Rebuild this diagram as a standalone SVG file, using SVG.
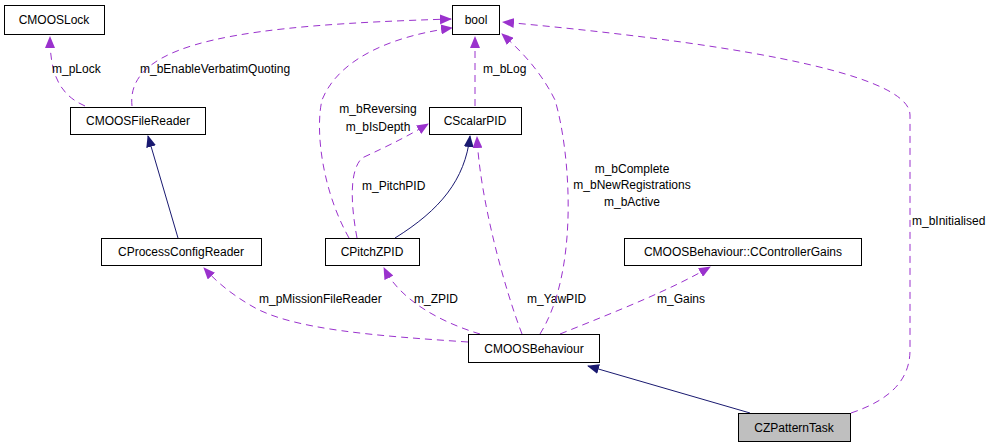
<svg xmlns="http://www.w3.org/2000/svg" width="997" height="448" viewBox="0 0 997 448">
<style>
.n rect{fill:#fff;stroke:#000;stroke-width:1}
text{font-family:"Liberation Sans",Arial,sans-serif;font-size:12px;fill:#000}
.n text{text-anchor:middle}
.u{fill:none;stroke:#9a32cd;stroke-dasharray:7,5;stroke-width:1}
.i{fill:none;stroke:#191970;stroke-width:1}
</style>
<defs>
<marker id="pa" markerWidth="12" markerHeight="10" refX="11" refY="5" orient="auto" markerUnits="userSpaceOnUse"><path d="M0,0 L12,5 L0,10 z" fill="#9a32cd"/></marker>
<marker id="na" markerWidth="12" markerHeight="10" refX="11" refY="5" orient="auto" markerUnits="userSpaceOnUse"><path d="M0,0 L12,5 L0,10 z" fill="#191970"/></marker>
</defs>
<rect width="997" height="448" fill="#fff"/>
<g id="connectors">
<path class="u" d="M85,106 C60,95 50,75 50,37" marker-end="url(#pa)"/>
<text x="52" y="73">m_pLock</text>
<path class="u" d="M132,106 C125,40 250,25 451,19" marker-end="url(#pa)"/>
<text x="140" y="73">m_bEnableVerbatimQuoting</text>
<path class="i" d="M178,238 L148,136" marker-end="url(#na)"/>
<path class="u" d="M468,342 C380,336 290,330 250,305 C228,292 215,280 204,268" marker-end="url(#pa)"/>
<text x="259" y="303">m_pMissionFileReader</text>
<path class="u" d="M480,334 C440,322 400,300 384,268" marker-end="url(#pa)"/>
<text x="414" y="303">m_ZPID</text>
<path class="i" d="M395,238 C440,210 465,180 470,136" marker-end="url(#na)"/>
<path class="u" d="M357,238 C350,200 350,170 362,158 C390,145 410,135 428,124" marker-end="url(#pa)"/>
<text x="362" y="190">m_PitchPID</text>
<path class="u" d="M349,238 C322,190 315,130 322,100 C340,55 400,35 452,28" marker-end="url(#pa)"/>
<text x="378" y="113" text-anchor="middle">m_bReversing</text>
<text x="378" y="131" text-anchor="middle">m_bIsDepth</text>
<path class="u" d="M475,106 L475,37" marker-end="url(#pa)"/>
<text x="483" y="73">m_bLog</text>
<path class="u" d="M522,334 C505,290 480,200 477,137" marker-end="url(#pa)"/>
<text x="527" y="303">m_YawPID</text>
<path class="u" d="M540,334 C580,270 570,150 555,100 C540,70 520,50 502,34" marker-end="url(#pa)"/>
<text x="632" y="173" text-anchor="middle">m_bComplete</text>
<text x="632" y="189" text-anchor="middle">m_bNewRegistrations</text>
<text x="632" y="206" text-anchor="middle">m_bActive</text>
<path class="u" d="M560,334 C620,310 670,290 710,267" marker-end="url(#pa)"/>
<text x="657" y="303">m_Gains</text>
<path class="i" d="M750,413 L588,366" marker-end="url(#na)"/>
<path class="u" d="M851,413 C890,400 910,380 910,350 L910,115 C910,70 700,40 503,22" marker-end="url(#pa)"/>
<text x="912" y="225">m_bInitialised</text>
</g>
<g id="CMOOSLock" class="n"><rect x="4.5" y="5.5" width="100" height="29"/><text x="54" y="24">CMOOSLock</text></g>
<g id="bool" class="n"><rect x="452.5" y="5.5" width="47" height="29"/><text x="476" y="24">bool</text></g>
<g id="CMOOSFileReader" class="n"><rect x="70.5" y="107.5" width="135" height="27"/><text x="138" y="125">CMOOSFileReader</text></g>
<g id="CScalarPID" class="n"><rect x="429.5" y="107.5" width="92" height="27"/><text x="475" y="125">CScalarPID</text></g>
<g id="CProcessConfigReader" class="n"><rect x="101.5" y="238.5" width="160" height="27"/><text x="181" y="256">CProcessConfigReader</text></g>
<g id="CPitchZPID" class="n"><rect x="325.5" y="238.5" width="94" height="27"/><text x="372" y="256">CPitchZPID</text></g>
<g id="CControllerGains" class="n"><rect x="624.5" y="238.5" width="237" height="27"/><text x="743" y="256">CMOOSBehaviour::CControllerGains</text></g>
<g id="CMOOSBehaviour" class="n"><rect x="468.5" y="334.5" width="131" height="28"/><text x="534" y="353">CMOOSBehaviour</text></g>
<g id="CZPatternTask" class="n"><rect x="738.5" y="413.5" width="112" height="28" style="fill:#bfbfbf"/><text x="794" y="432">CZPatternTask</text></g>
</svg>
